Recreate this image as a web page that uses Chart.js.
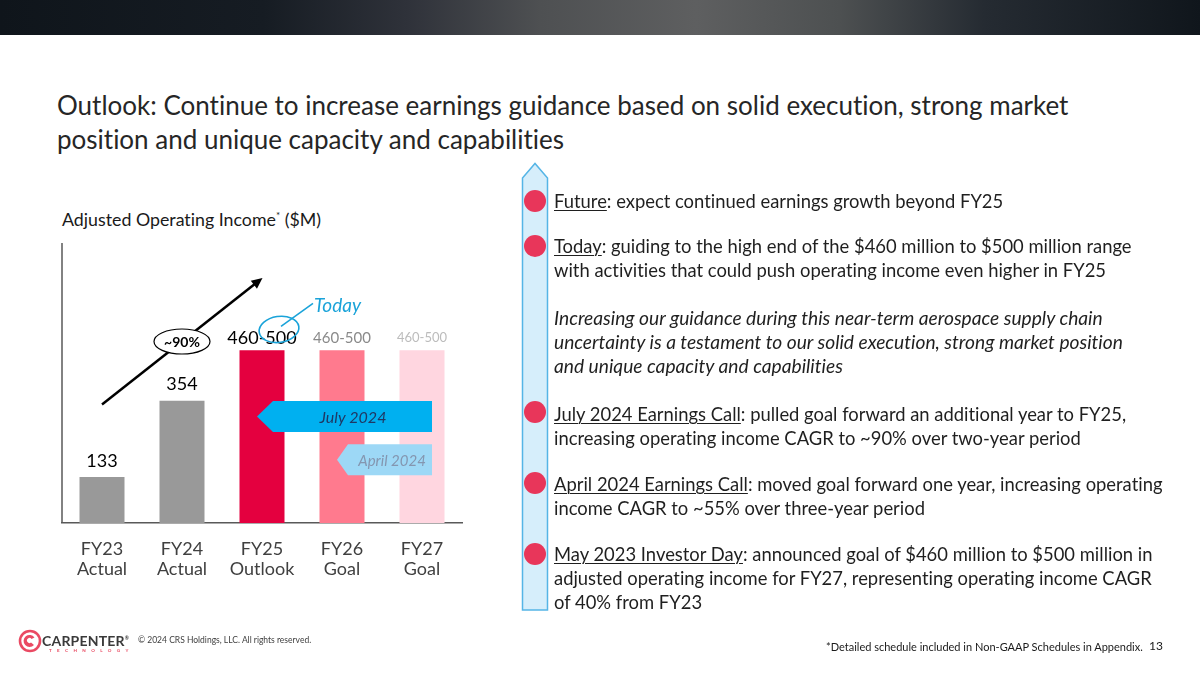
<!DOCTYPE html>
<html><head><meta charset="utf-8">
<script src="https://cdn.jsdelivr.net/npm/chart.js@4.4.1/dist/chart.umd.min.js"></script>
<style>
body{margin:0;width:1200px;height:675px;overflow:hidden;background:#fff;font-family:Lato,sans-serif;position:relative;font-variant-ligatures:none}
.hdr{position:absolute;left:0;top:0;width:1200px;height:35px;background:linear-gradient(90deg,#0f151b 0%,#161c23 22%,#2f323a 34%,#4e5052 45%,#5e5f60 58%,#4d5051 70%,#252b32 82%,#10161c 100%)}
.title{position:absolute;left:57px;top:88px;font-size:26px;line-height:34px;color:#262626;white-space:nowrap}
.sub{position:absolute;left:62px;top:208px;font-size:17.8px;line-height:22px;color:#1a1a1a;white-space:nowrap}
.sub sup{font-size:10px;vertical-align:7px;line-height:0}
#c{position:absolute;left:0;top:0}
.p{position:absolute;left:554px;font-size:18.4px;line-height:24px;color:#1f1f1f;white-space:nowrap}
.p u{text-decoration-thickness:1px;text-underline-offset:2px}
.dot{position:absolute;left:524px;width:22px;height:22px;border-radius:50%;background:#E8365A}
.copy{position:absolute;left:138px;top:635px;font-size:8.5px;color:#404040;white-space:nowrap}
.foot{position:absolute;left:826px;top:640px;font-size:11px;color:#1a1a1a;white-space:nowrap}
.pg{position:absolute;left:1149px;top:638px;font-size:12px;color:#1a1a1a}
.logo{position:absolute;left:42px;top:632px;font-size:14px;font-weight:700;color:#3a3a3a;letter-spacing:0.2px}
.logo sup{font-size:5px;vertical-align:6px}
.tech{position:absolute;left:49px;top:648px;font-size:4.5px;color:#e8475f;letter-spacing:5.4px;font-weight:700}
</style></head>
<body>
<div class="hdr"></div>
<div class="title">Outlook: Continue to increase earnings guidance based on solid execution, strong market<br>position and unique capacity and capabilities</div>
<div class="sub">Adjusted Operating Income<sup>*</sup> ($M)</div>
<canvas id="c" width="480" height="600"></canvas>

<svg style="position:absolute;left:0;top:0" width="1200" height="675">
  <path d="M522.5 178 L535 163.5 L547.5 178 L547.5 610 L522.5 610 Z" fill="#D6EEFB" stroke="#55B5E6" stroke-width="1.5"/>
</svg>
<div class="dot" style="top:190px"></div>
<div class="dot" style="top:235px"></div>
<div class="dot" style="top:401px"></div>
<div class="dot" style="top:472px"></div>
<div class="dot" style="top:543px"></div>

<div class="p" style="top:189px"><u>Future</u>: expect continued earnings growth beyond FY25</div>
<div class="p" style="top:234px"><u>Today</u>: guiding to the high end of the $460 million to $500 million range<br>with activities that could push operating income even higher in FY25</div>
<div class="p" style="top:306px;font-style:italic;font-size:19.2px">Increasing our guidance during this near-term aerospace supply chain<br>uncertainty is a testament to our solid execution, strong market position<br>and unique capacity and capabilities</div>
<div class="p" style="top:402px"><u>July 2024 Earnings Call</u>: pulled goal forward an additional year to FY25,<br>increasing operating income CAGR to ~90% over two-year period</div>
<div class="p" style="top:472px"><u>April 2024 Earnings Call</u>: moved goal forward one year, increasing operating<br>income CAGR to ~55% over three-year period</div>
<div class="p" style="top:542px"><u>May 2023 Investor Day</u>: announced goal of $460 million to $500 million in<br>adjusted operating income for FY27, representing operating income CAGR<br>of 40% from FY23</div>

<svg style="position:absolute;left:18px;top:629px" width="24" height="24" viewBox="0 0 24 24">
  <circle cx="12" cy="12" r="10" fill="none" stroke="#ea4a63" stroke-width="2.6"/>
  <path d="M16.5 8.5 A6 6 0 1 0 16 16 L13 13.5 A2.5 2.5 0 1 1 13.5 10 Z" fill="#ea4a63"/>
</svg>
<div class="logo">CARPENTER<sup>®</sup></div>
<div class="tech">TECHNOLOGY</div>
<div class="copy">© 2024 CRS Holdings, LLC. All rights reserved.</div>
<div class="foot">*Detailed schedule included in Non-GAAP Schedules in Appendix.</div>
<div class="pg">13</div>

<script>
const categories = [['FY23','Actual'],['FY24','Actual'],['FY25','Outlook'],['FY26','Goal'],['FY27','Goal']];
const values = [133, 354, 500, 500, 500];
const valueLabels = ['133','354','460-500','460-500','460-500'];
const barColors = ['#999999','#999999','#E4003F','#FF7A8E','#FFD6E0'];
const labelColors = ['#000000','#000000','#000000','#8a8a8a','#bcbcbc'];
const labelSizes = [18,18,18,15,13];
const yMax = 810;

const overlay = {
  id:'overlay',
  afterDatasetsDraw(chart){
    const ctx = chart.ctx, xs = chart.scales.x, ys = chart.scales.y, a = chart.chartArea;
    const X = i => xs.getPixelForValue(i), Y = v => ys.getPixelForValue(v);
    ctx.save();
    ctx.strokeStyle = '#595959'; ctx.lineWidth = 1.5;
    ctx.beginPath(); ctx.moveTo(a.left, a.top); ctx.lineTo(a.left, a.bottom); ctx.stroke();
    ctx.textAlign = 'center'; ctx.textBaseline = 'middle';
    const meta = chart.getDatasetMeta(0);
    meta.data.forEach((bar, i) => {
      ctx.font = labelSizes[i] + 'px Lato';
      ctx.fillStyle = labelColors[i];
      const off = i < 2 ? 16 : 12;
      ctx.fillText(valueLabels[i], bar.x, bar.y - off);
    });
    const x0 = X(0), y0 = Y(343), x1 = X(2) + 0.5, y1 = Y(709);
    ctx.strokeStyle = '#000'; ctx.fillStyle = '#000'; ctx.lineWidth = 2.5;
    const ang = Math.atan2(y1 - y0, x1 - x0);
    ctx.beginPath(); ctx.moveTo(x0, y0); ctx.lineTo(x1 - 9*Math.cos(ang), y1 - 9*Math.sin(ang)); ctx.stroke();
    ctx.beginPath();
    ctx.moveTo(x1, y1);
    ctx.lineTo(x1 - 11*Math.cos(ang) + 5*Math.sin(ang), y1 - 11*Math.sin(ang) - 5*Math.cos(ang));
    ctx.lineTo(x1 - 11*Math.cos(ang) - 5*Math.sin(ang), y1 - 11*Math.sin(ang) + 5*Math.cos(ang));
    ctx.closePath(); ctx.fill();
    const ox = (X(0)+X(1))/2 + 40, oy = Y(525);
    ctx.beginPath(); ctx.ellipse(ox, oy, 28, 12.5, 0, 0, Math.PI*2);
    ctx.fillStyle = '#fff'; ctx.fill(); ctx.lineWidth = 1.2; ctx.strokeStyle = '#000'; ctx.stroke();
    ctx.fillStyle = '#000'; ctx.font = 'bold 14px Lato'; ctx.fillText('~90%', ox, oy + 1);
    const tx = X(2) + 17, ty = Y(560);
    ctx.strokeStyle = '#1AA3D9'; ctx.lineWidth = 1.6;
    ctx.beginPath(); ctx.ellipse(tx, ty, 20, 13, -0.15, 0, Math.PI*2); ctx.stroke();
    ctx.beginPath(); ctx.moveTo(tx + 2, ty - 3); ctx.lineTo(tx + 34, ty - 26); ctx.stroke();
    ctx.fillStyle = '#1AA3D9'; ctx.font = 'italic 19px Lato'; ctx.textAlign = 'left';
    ctx.fillText('Today', tx + 35, ty - 24);
    const banner = (tip, sh, right, top, bot, col, txt, tcol, fs, cx) => {
      ctx.beginPath();
      ctx.moveTo(tip, (top+bot)/2); ctx.lineTo(sh, top); ctx.lineTo(right, top);
      ctx.lineTo(right, bot); ctx.lineTo(sh, bot); ctx.closePath();
      ctx.fillStyle = col; ctx.fill();
      ctx.fillStyle = tcol; ctx.font = 'italic ' + fs + 'px Lato'; ctx.textAlign = 'center';
      ctx.fillText(txt, cx, (top+bot)/2 + 1);
    };
    banner(X(2) - 5, X(2) + 11, X(4) + 10, Y(353), Y(263), '#00B0F0', 'July 2024', '#1F3864', 16, X(3) + 11);
    banner(X(3) - 5, X(3) + 6, X(4) + 10, Y(228), Y(138), '#9DD8F6', 'April 2024', '#8496B0', 15, X(4) - 30);
    ctx.restore();
  }
};

new Chart(document.getElementById('c'), {
  type: 'bar',
  data: { labels: categories, datasets: [{ data: values, backgroundColor: barColors, barPercentage: 0.5625, categoryPercentage: 1 }] },
  options: {
    responsive: false, animation: false, devicePixelRatio: 1,
    layout: { padding: { left: 62, right: 18, top: 243, bottom: 0 } },
    plugins: { legend: { display: false }, tooltip: { enabled: false } },
    scales: {
      x: { grid: { display: false }, border: { display: true, color: '#595959', width: 1.5 },
           ticks: { color: '#404040', padding: 8, font: { family: 'Lato', size: 18, lineHeight: 1.1 } },
           afterFit(s) { s.height = 77; } },
      y: { display: false, min: 0, max: yMax }
    }
  },
  plugins: [overlay]
});
</script>
</body></html>
